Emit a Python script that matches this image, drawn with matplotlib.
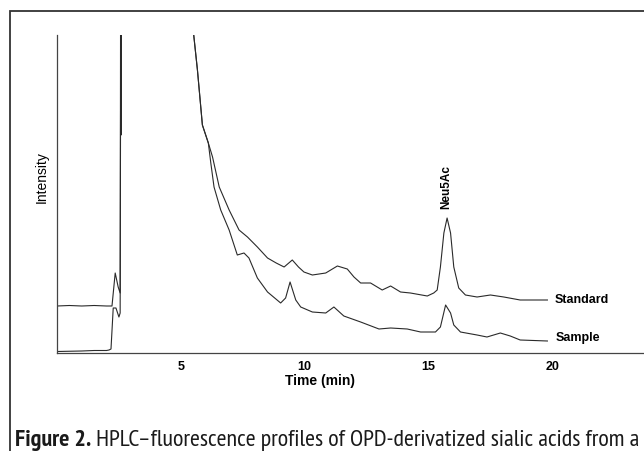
import matplotlib
matplotlib.use("Agg")
import matplotlib.pyplot as plt
from matplotlib.patches import Rectangle
from matplotlib import font_manager

# chromatogram traces (time in min, intensity in arbitrary units)
std_time = [0.0, 0.5, 1.0, 1.5, 2.0, 2.22, 2.35, 2.47, 2.55, 2.58,
            2.6, 5.45, 5.52, 5.67, 5.87, 6.07, 6.11, 6.28, 6.55, 6.95,
            7.35, 7.69, 8.09, 8.5, 8.85, 9.17, 9.5, 9.75, 9.97, 10.31,
            10.85, 11.32, 11.72, 11.99, 12.26, 12.66, 13.13, 13.47, 13.87, 14.27,
            14.95, 15.21, 15.35, 15.48, 15.62, 15.75, 15.89, 16.02, 16.22, 16.49,
            16.96, 17.5, 18.04, 18.7, 19.8]
std_int = [47, 47.5, 47, 47.5, 47, 47, 80, 66, 60, 400,
           400, 400, 318, 283, 228, 213, 210, 196, 166, 143,
           123, 116, 106, 95, 90, 86, 93, 86, 81, 78,
           80, 87, 84, 76, 70, 70, 63, 67, 61, 60,
           57, 60, 63, 86, 120, 135, 120, 86, 65, 58,
           56, 58, 56, 53, 53]

smp_time = [0.0, 1.0, 1.5, 2.0, 2.1, 2.18, 2.27, 2.38, 2.5, 2.55,
            2.57, 2.59, 2.61, 2.63, 5.45, 5.52, 5.67, 5.87, 6.07, 6.11,
            6.21, 6.34, 6.61, 6.95, 7.28, 7.55, 7.75, 8.09, 8.5, 9.03,
            9.23, 9.41, 9.64, 9.84, 10.31, 10.85, 11.18, 11.58, 12.26, 13.0,
            13.47, 14.14, 14.68, 15.28, 15.48, 15.69, 15.89, 16.02, 16.29, 16.96,
            17.36, 17.9, 18.3, 18.7, 19.8]
smp_int = [1.5, 2, 2.5, 2.5, 3, 4, 45, 45, 36, 40,
           400, 218, 400, 400, 400, 318, 283, 228, 213, 210,
           190, 166, 143, 123, 98, 100, 95, 75, 61, 50,
           55, 71, 53, 46, 41, 40, 46, 37, 31, 24,
           25, 24, 21, 21, 26, 48, 40, 28, 21, 18,
           16, 20, 17, 13, 12]

trace_labels = ["Standard", "Sample"]
label_pos = [(20.08, 53), (20.12, 15.4)]
peak_name = "Neu5Ac"
peak_pos = (15.73, 144)
x_ticks = [5, 10, 15, 20]

caption_bold = "Figure 2."
caption_rest = " HPLC\u2013fluorescence profiles of OPD-derivatized sialic acids from a"

plt.rcParams['font.family'] = ['Liberation Sans', 'DejaVu Sans']

W, H = 644, 451
fig = plt.figure(figsize=(W / 100, H / 100), dpi=100)

# outer frame of the figure panel (runs off the right and bottom edges)
fig.add_artist(Rectangle((10 / W, -0.2), 1.2, 1.2 - 11 / H,
                         transform=fig.transFigure, fill=False,
                         lw=1.3, ec='#333333'))

ax = fig.add_axes([57 / W, 1 - 353 / H, (W - 57) / W, (353 - 35) / H])
line_kw = dict(color='#2a2a2a', lw=0.8)
ax.plot(std_time, std_int, **line_kw)
ax.plot(smp_time, smp_int, **line_kw)

ax.set_xlim(0, 23.7)
ax.set_ylim(0, 318)
for s in ['top', 'right']:
    ax.spines[s].set_visible(False)
for s in ['left', 'bottom']:
    ax.spines[s].set_color('#444444')
    ax.spines[s].set_linewidth(0.9)

ax.set_xticks(x_ticks)
ax.set_xticklabels([str(t) for t in x_ticks], fontsize=9, fontweight='bold')
ax.tick_params(axis='x', length=0, pad=6)
ax.set_yticks([])

ax.text(0.448, -0.088, "Time (min)", transform=ax.transAxes,
        ha='center', va='center', fontsize=10, fontweight='bold')
ax.text(-0.026, 0.553, "Intensity", transform=ax.transAxes, rotation=90,
        ha='center', va='center', fontsize=10)

for lab, (tx, ty) in zip(trace_labels, label_pos):
    ax.text(tx, ty, lab, ha='left', va='center', fontsize=9, fontweight='bold')
ax.text(peak_pos[0], peak_pos[1], peak_name, rotation=90, ha='center',
        va='bottom', fontsize=8.5, fontweight='bold')

# caption in a narrow face, sized to span the panel width
names = {f.name for f in font_manager.fontManager.ttflist}
cap_font = 'PT Sans Narrow' if 'PT Sans Narrow' in names else 'Liberation Sans'
renderer = fig.canvas.get_renderer()
size = 16
x0 = 15 / W
yb = 1 - 446 / H
for _ in range(4):
    t1 = fig.text(x0, yb, caption_bold, fontsize=size, fontweight='bold',
                  family=cap_font, va='baseline', color='#1a1a1a')
    bb = t1.get_window_extent(renderer)
    t2 = fig.text(bb.x1 / W, yb, caption_rest, fontsize=size,
                  family=cap_font, va='baseline', color='#1a1a1a')
    bb2 = t2.get_window_extent(renderer)
    total = bb2.x1 - 15
    target = 640 - 15
    if abs(total - target) < 2:
        break
    t1.remove()
    t2.remove()
    size = size * target / total

fig.savefig("out.png", dpi=100)
